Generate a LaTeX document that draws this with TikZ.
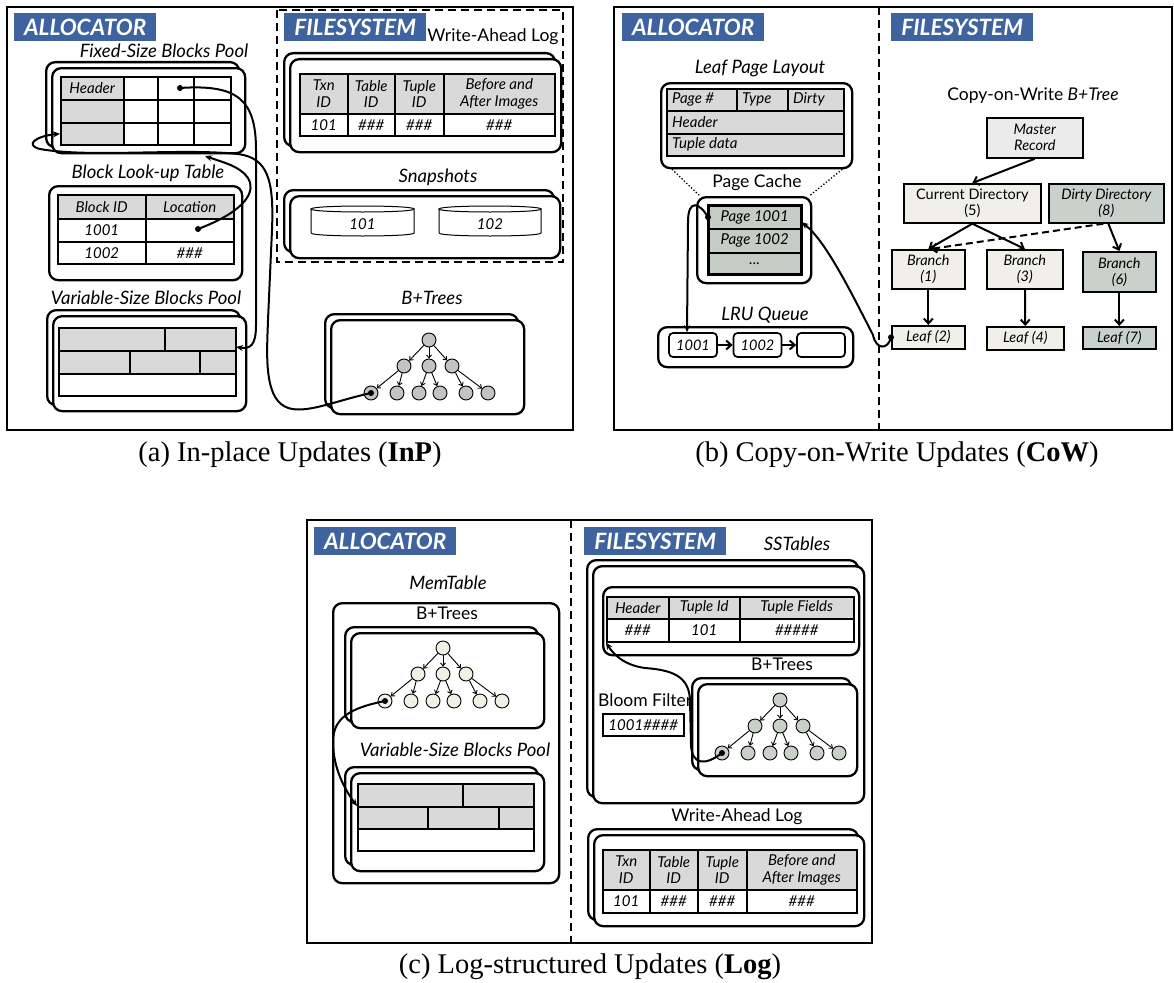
\documentclass[tikz,border=0pt]{standalone}
\usepackage{fontspec}
\setmainfont{Lato}
\newfontfamily\capfont{Liberation Serif}
\usetikzlibrary{arrows.meta}
\definecolor{badgeblue}{RGB}{63,99,158}
\definecolor{hdrgray}{RGB}{217,217,217}
\definecolor{pcgreen}{RGB}{196,204,198}
\definecolor{dirtyg}{RGB}{200,209,203}
\definecolor{cream}{RGB}{240,240,232}
\definecolor{mastergray}{RGB}{235,235,235}
\definecolor{treegray}{RGB}{195,195,195}
\definecolor{treecream}{RGB}{240,240,228}
\definecolor{treegreen}{RGB}{200,208,200}
\tikzset{
 lbl/.style={inner sep=0, font=\fontsize{18.5}{20}\selectfont\itshape},
 lblu/.style={inner sep=0, font=\fontsize{17.5}{20}\selectfont},
 tbl/.style={inner sep=0, font=\fontsize{15}{17}\selectfont\itshape},
 badge/.style={fill=badgeblue, text=white, inner sep=0, minimum width=142pt, minimum height=28pt, font=\fontsize{22.5}{22}\selectfont\bfseries\itshape},
 frame/.style={draw, line width=2.5pt},
 divider/.style={line width=2pt, dash pattern=on 8pt off 5pt},
 rbx/.style={draw, line width=2.3pt, rounded corners=9pt, fill=white, inner sep=0},
 cellsty/.style={draw, line width=1.5pt, inner sep=0, align=center, font=\fontsize{15}{16.5}\selectfont\itshape},
 tn/.style={circle, draw, line width=0.9pt, minimum size=14pt, inner sep=0},
 te/.style={line width=0.9pt, -{Straight Barb[length=3pt,width=5pt]}},
 conn/.style={line width=2pt, -{Stealth[length=7pt,width=6pt]}},
 cbox/.style={draw, line width=1.7pt, inner sep=0, align=center, font=\fontsize{14.5}{16}\selectfont\itshape},
 carr/.style={line width=2pt, -{Straight Barb[length=5pt,width=9pt]}},
 lrub/.style={draw, line width=1.7pt, rounded corners=4pt, minimum width=48pt, minimum height=24pt, inner sep=0, font=\fontsize{14.5}{16}\selectfont\itshape},
 captxt/.style={inner sep=0, font=\capfont\fontsize{28.5}{32}\selectfont},
}
\newcommand\cell[7]{\node[cellsty,#6,minimum width={(#4)-(#2)},minimum height={(#5)-(#3)},anchor=north west] (#1) at (#2,#3) {#7};}
\newcommand\lcell[6]{\cell{#1}{#2}{#3}{#4}{#5}{fill=hdrgray}{}\node[tbl,anchor=west] (#1t) at ([xshift=6pt]#1.west) {#6};}
\newcommand\rbxm[5]{\node[rbx,minimum width={(#4)-(#2)},minimum height={(#5)-(#3)},anchor=north west] (#1) at (#2,#3) {};}
\newcommand\stackbx[5]{\node[rbx,minimum width={(#4)-(#2)},minimum height={(#5)-(#3)},anchor=north west] (#1b) at ({#2-6},{#3-6}) {};%
\node[rbx,minimum width={(#4)-(#2)},minimum height={(#5)-(#3)},anchor=north west] (#1) at (#2,#3) {};}
\newcommand\btree[4]{%
 \foreach \n/\dx/\dy in {r/0/0,a/-25/26,b/0/26,c/23/26,l1/-58/53,l2/-32/53,l3/-10/53,l4/11/53,l5/37/53,l6/59/53}
   {\node[tn,fill=#4] (#1\n) at ({#2+(\dx)},{#3+(\dy)}) {};}
 \foreach \s/\t in {r/a,r/b,r/c,a/l1,a/l2,b/l3,b/l4,c/l5,c/l6}
   {\draw[te] (#1\s) -- (#1\t);}
 \fill (#1l1) circle (3pt);}
\newcommand\cyl[6]{%
 \draw[line width=1pt, fill=white] (#2,#4) -- (#2,#5) .. controls (#2,#5+4) and (#3,#5+4) .. (#3,#5) -- (#3,#4) .. controls (#3,#4+4) and (#2,#4+4) .. (#2,#4) .. controls (#2,#4-4) and (#3,#4-4) .. (#3,#4);
 \node[tbl] (#1) at ({(#2+#3)/2},{(#4+#5)/2+3}) {#6};}
\begin{document}
\begin{tikzpicture}[x=1pt,y=-1pt]
\useasboundingbox[fill=white] (0,0) rectangle (1174,982);
%% ================= (a) =================
\draw[frame] (7,7) rectangle (573,430);
\node[badge,anchor=north west] (allocA) at (14,13) {ALLOCATOR};
\node[lbl] (fixlbl) at (164,51) {Fixed-Size Blocks Pool};
\stackbx{fixp}{51}{67}{244}{152}
\cell{fa11}{60}{76}{123}{99}{fill=hdrgray}{Header}
\cell{fa12}{123}{76}{157}{99}{}{}
\cell{fa13}{157}{76}{193}{99}{}{}
\cell{fa14}{193}{76}{230}{99}{}{}
\cell{fa21}{60}{99}{123}{122}{fill=hdrgray}{}
\cell{fa22}{123}{99}{157}{122}{}{}
\cell{fa23}{157}{99}{193}{122}{}{}
\cell{fa24}{193}{99}{230}{122}{}{}
\cell{fa31}{60}{122}{123}{144}{fill=hdrgray}{}
\cell{fa32}{123}{122}{157}{144}{}{}
\cell{fa33}{157}{122}{193}{144}{}{}
\cell{fa34}{193}{122}{230}{144}{}{}
\node[lbl] (lutlbl) at (148,173) {Block Look-up Table};
\rbxm{lut}{48}{185}{241}{279}
\cell{lu11}{57}{194}{145}{218}{fill=hdrgray}{Block ID}
\cell{lu12}{145}{194}{233}{218}{fill=hdrgray}{Location}
\cell{lu21}{57}{218}{145}{241}{}{1001}
\cell{lu22}{145}{218}{233}{241}{}{}
\cell{lu31}{57}{241}{145}{263}{}{1002}
\cell{lu32}{145}{241}{233}{263}{}{\#\#\#}
\node[lbl] (varlbl) at (146,298) {Variable-Size Blocks Pool};
\stackbx{varp}{52}{315}{245}{410}
\cell{va11}{58}{327}{164}{350}{fill=hdrgray}{}
\cell{va12}{164}{327}{235}{350}{fill=hdrgray}{}
\cell{va21}{58}{350}{129}{373}{fill=hdrgray}{}
\cell{va22}{129}{350}{199}{373}{fill=hdrgray}{}
\cell{va23}{199}{350}{235}{373}{fill=hdrgray}{}
\cell{va31}{58}{373}{235}{395}{}{}
% filesystem
\draw[divider] (277,10) rectangle (563,262);
\node[badge,anchor=north west] (fsA) at (284,13) {FILESYSTEM};
\node[lblu] (walAlbl) at (493,37) {Write-Ahead Log};
\stackbx{wala}{289}{58}{560}{151}
\cell{wa11}{299}{73}{347}{113}{fill=hdrgray}{Txn\\ID}
\cell{wa12}{347}{73}{394}{113}{fill=hdrgray}{Table\\ID}
\cell{wa13}{394}{73}{443}{113}{fill=hdrgray}{Tuple\\ID}
\cell{wa14}{443}{73}{554}{113}{fill=hdrgray}{Before and\\After Images}
\cell{wa21}{299}{113}{347}{135}{}{101}
\cell{wa22}{347}{113}{394}{135}{}{\#\#\#}
\cell{wa23}{394}{113}{443}{135}{}{\#\#\#}
\cell{wa24}{443}{113}{554}{135}{}{\#\#\#}
\node[lbl] (snaplbl) at (438,177) {Snapshots};
\stackbx{snap}{289}{195}{559}{257}
\cyl{cy1}{311}{414}{209}{233}{101}
\cyl{cy2}{439}{541}{209}{233}{102}
\node[lbl] (btalbl) at (432,298) {B+Trees};
\stackbx{bta}{330}{319}{523}{413}
\btree{ta}{429}{340}{treegray}
% connectors (a)
\coordinate (d1) at (180,88);
\coordinate (d2) at (198,229);
\coordinate (va) at (236,347);
\fill (d1) circle (3pt);
\fill (d2) circle (3pt);
\draw[conn] (d1) .. controls (238,84) and (256,100) .. (256,150) -- (256,325) .. controls (256,346) and (250,349) .. (va);
\draw[conn] (d2) .. controls (238,214) and (258,195) .. (248,178) .. controls (240,166) and (222,162) .. (205,156);
\draw[conn] (tal1.center) .. controls (330,402) and (298,418) .. (281,404) .. controls (264,390) and (267,350) .. (268,320) -- (272,230) .. controls (274,180) and (268,158) .. (238,154) .. controls (180,148) and (90,158) .. (40,149) .. controls (24,145) and (36,136) .. (fa31.west);
\node[captxt] (capa) at (290,455) {(a) In-place Updates (\textbf{InP})};
%% ================= (b) =================
\draw[frame] (614,7) rectangle (1172,430);
\draw[divider] (879,7) -- (879,430);
\node[badge,anchor=north west] (allocB) at (622,13) {ALLOCATOR};
\node[badge,anchor=north west] (fsB) at (891,13) {FILESYSTEM};
\node[lbl] (lpllbl) at (760,68) {Leaf Page Layout};
\rbxm{lpl}{660}{82}{851}{167}
\lcell{lp11}{666}{88}{736}{110}{Page \#}
\lcell{lp12}{736}{88}{787}{110}{Type}
\lcell{lp13}{787}{88}{843}{110}{Dirty}
\lcell{lp2}{666}{110}{843}{133}{Header}
\lcell{lp3}{666}{133}{843}{155}{Tuple data}
\node[lblu] (pclbl) at (757,183) {Page Cache};
\rbxm{pcb}{696}{196}{810}{282}
\cell{pc1}{708}{205}{800}{228}{fill=pcgreen}{Page 1001}
\cell{pc2}{708}{228}{800}{252}{fill=pcgreen}{Page 1002}
\cell{pc3}{708}{252}{800}{273}{fill=pcgreen}{...}
\draw[line width=2.4pt] (pc1.north west) rectangle (pc3.south east);
\draw[line width=1.3pt, dotted] ([xshift=12pt]lpl.south west) -- ([xshift=4pt]pcb.north west);
\draw[line width=1.3pt, dotted] ([xshift=-11pt]lpl.south east) -- ([xshift=-3pt]pcb.north east);
\node[lbl] (lrulbl) at (765,315) {LRU Queue};
\rbxm{lru}{657}{326}{852}{366}
\node[lrub] (q1) at (693,345) {1001};
\node[lrub] (q2) at (757.5,345) {1002};
\node[lrub] (q3) at (821,345) {};
\draw[carr] (q1) -- (q2);
\draw[carr] (q2) -- (q3);
\node[lblu] (cowlbl) at (1033,96) {Copy-on-Write \textit{B+Tree}};
\cell{master}{986}{117}{1082}{157}{cbox,fill=mastergray}{Master\\Record}
\cell{cur}{903}{183}{1040}{222}{cbox,fill=cream,font=\fontsize{14.5}{16}\selectfont}{Current Directory\\(5)}
\cell{dirty}{1048}{183}{1163}{222}{cbox,fill=dirtyg}{Dirty Directory\\(8)}
\cell{b1}{891}{249}{964}{288}{cbox,fill=cream}{Branch\\(1)}
\cell{b3}{986}{249}{1062}{288}{cbox,fill=cream}{Branch\\(3)}
\cell{b6}{1082}{251}{1155}{291}{cbox,fill=dirtyg}{Branch\\(6)}
\cell{l2}{891}{325}{964}{348}{cbox,fill=cream}{Leaf (2)}
\cell{l4}{986}{326}{1063}{349}{cbox,fill=cream}{Leaf (4)}
\cell{l7}{1082}{326}{1155}{348}{cbox,fill=dirtyg}{Leaf (7)}
\draw[carr] (master.south) -- (cur.north);
\draw[carr] (cur.south) -- (b1.north);
\draw[carr] (cur.south) -- (b3.north);
\draw[carr] ([xshift=2pt]dirty.south) -- (b6.north);
\draw[carr, dash pattern=on 7pt off 4pt] ([xshift=-3pt]dirty.south) -- ([xshift=2pt]b1.north);
\draw[carr] (b1) -- (l2);
\draw[carr] (b3) -- (l4);
\draw[carr] (b6) -- (l7);
\fill (pc1.west) circle (3pt);
\fill (l2.west) circle (3pt);
\draw[conn] (pc1.west) .. controls (700,203) and (688,198) .. (688,222) -- ([xshift=-6pt]q1.north);
\draw[conn] (l2.west) .. controls (888,350) and (876,350) .. (873,335) .. controls (850,290) and (825,240) .. ([yshift=-5pt]pc1.east);
\node[captxt] (capb) at (897,455) {(b) Copy-on-Write Updates (\textbf{CoW})};
%% ================= (c) =================
\draw[frame] (307,520) rectangle (872,943);
\draw[divider] (571,520) -- (571,943);
\node[badge,anchor=north west] (allocC) at (314,527) {ALLOCATOR};
\node[badge,anchor=north west] (fsC) at (584,527) {FILESYSTEM};
\node[lbl] (memlbl) at (448,583) {MemTable};
\rbxm{mem}{332}{602}{558}{882}
\node[lblu] (btmlbl) at (447,613) {B+Trees};
\stackbx{btm}{350}{632}{543}{727}
\btree{tm}{443}{648}{treecream}
\node[lbl] (vpclbl) at (455,750) {Variable-Size Blocks Pool};
\stackbx{vpc}{350}{772}{543}{870}
\cell{vc11}{357}{783}{462}{806}{fill=hdrgray}{}
\cell{vc12}{462}{783}{533}{806}{fill=hdrgray}{}
\cell{vc21}{357}{806}{427}{828}{fill=hdrgray}{}
\cell{vc22}{427}{806}{498}{828}{fill=hdrgray}{}
\cell{vc23}{498}{806}{533}{828}{fill=hdrgray}{}
\cell{vc31}{357}{828}{533}{850}{}{}
\draw[conn] (tml1.center) .. controls (350,708) and (333,718) .. (333,742) .. controls (333,768) and (345,790) .. (vc21.north west);
\node[lbl] (sstlbl) at (797,544) {SSTables};
\stackbx{sst}{592}{565}{863}{802}
\rbxm{tup}{602}{586}{858}{654}
\cell{ss11}{606}{596}{668}{618}{fill=hdrgray}{Header}
\cell{ss12}{668}{596}{739}{618}{fill=hdrgray}{Tuple Id}
\cell{ss13}{739}{596}{853}{618}{fill=hdrgray}{Tuple Fields}
\cell{ss21}{606}{618}{668}{641}{}{\#\#\#}
\cell{ss22}{668}{618}{739}{641}{}{101}
\cell{ss23}{739}{618}{853}{641}{}{\#\#\#\#\#}
\node[lblu] (btflbl) at (782,664) {B+Trees};
\stackbx{btf}{697}{683}{856}{775}
\btree{tf}{780}{700}{treegreen}
\node[lblu,anchor=west] (bloomlbl) at (598,700) {Bloom Filter};
\cell{bloom}{602}{713}{683}{735}{}{1001\#\#\#\#}
\draw[conn] (tfl1.center) .. controls (705,766) and (692,765) .. (691,745) -- (690,700) .. controls (689,676) and (672,670) .. (645,668) .. controls (622,665) and (612,652) .. (ss21.south west);
\node[lblu] (walClbl) at (737,817) {Write-Ahead Log};
\stackbx{walc}{593}{834}{863}{925}
\cell{wc11}{602}{849}{649}{889}{fill=hdrgray}{Txn\\ID}
\cell{wc12}{649}{849}{697}{889}{fill=hdrgray}{Table\\ID}
\cell{wc13}{697}{849}{746}{889}{fill=hdrgray}{Tuple\\ID}
\cell{wc14}{746}{849}{856}{889}{fill=hdrgray}{Before and\\After Images}
\cell{wc21}{602}{889}{649}{912}{}{101}
\cell{wc22}{649}{889}{697}{912}{}{\#\#\#}
\cell{wc23}{697}{889}{746}{912}{}{\#\#\#}
\cell{wc24}{746}{889}{856}{912}{}{\#\#\#}
\node[captxt] (capc) at (590,967) {(c) Log-structured Updates (\textbf{Log})};
\end{tikzpicture}
\end{document}
